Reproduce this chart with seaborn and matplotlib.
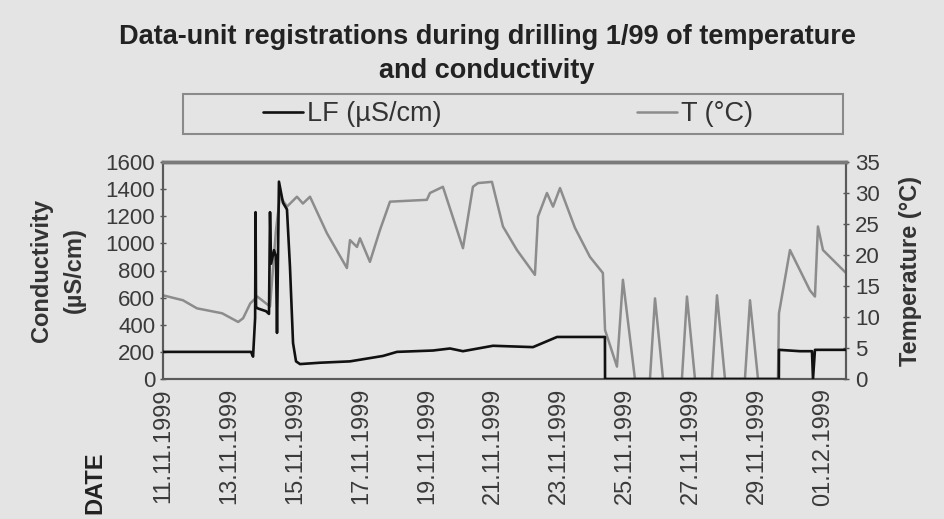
import pandas as pd
import matplotlib
matplotlib.use("Agg")
import matplotlib.pyplot as plt
import matplotlib.dates as mdates
from matplotlib.patches import Rectangle
import seaborn as sns

# conductivity (LF) readings
lf_time = [
    "1999-11-11 00:00", "1999-11-13 16:00", "1999-11-13 17:30", "1999-11-13 19:00",
    "1999-11-13 19:20", "1999-11-13 19:40", "1999-11-13 21:05", "1999-11-14 00:00",
    "1999-11-14 02:55", "1999-11-14 05:05", "1999-11-14 05:50", "1999-11-14 06:35",
    "1999-11-14 08:45", "1999-11-14 10:10", "1999-11-14 10:55", "1999-11-14 12:20",
    "1999-11-14 15:15", "1999-11-14 18:10", "1999-11-14 20:20", "1999-11-14 22:35",
    "1999-11-15 00:45", "1999-11-15 03:40", "1999-11-15 18:10", "1999-11-16 16:00",
    "1999-11-17 16:00", "1999-11-18 02:10", "1999-11-19 04:20", "1999-11-19 16:45",
    "1999-11-20 02:10", "1999-11-21 00:00", "1999-11-22 05:05", "1999-11-22 22:35",
    "1999-11-24 09:25", "1999-11-24 09:30", "1999-11-29 15:55", "1999-11-29 16:00",
    "1999-11-30 07:15", "1999-11-30 16:00", "1999-11-30 16:45", "1999-11-30 18:10",
    "1999-12-01 16:45",
]
lf_value = [
    200, 200, 165, 450,
    1230, 530, 520, 510,
    500, 480, 1230, 850,
    950, 900, 340, 1455,
    1300, 1250, 830, 265,
    130, 110, 120, 130,
    170, 200, 210, 225,
    205, 245, 235, 310,
    310, 0, 0, 215,
    205, 205, 0, 215,
    215,
]

# temperature readings
t_time = [
    "1999-11-11 00:00", "1999-11-11 14:30", "1999-11-12 00:40", "1999-11-12 19:00",
    "1999-11-13 06:40", "1999-11-13 10:15", "1999-11-13 15:30", "1999-11-13 20:35",
    "1999-11-14 05:50", "1999-11-14 10:10", "1999-11-14 13:05", "1999-11-14 18:10",
    "1999-11-15 01:25", "1999-11-15 05:45", "1999-11-15 10:55", "1999-11-15 23:15",
    "1999-11-16 13:45", "1999-11-16 16:00", "1999-11-16 21:05", "1999-11-16 23:15",
    "1999-11-17 06:30", "1999-11-17 13:45", "1999-11-17 21:05", "1999-11-18 23:55",
    "1999-11-19 02:10", "1999-11-19 11:35", "1999-11-20 02:10", "1999-11-20 09:25",
    "1999-11-20 13:05", "1999-11-20 23:15", "1999-11-21 07:15", "1999-11-21 17:25",
    "1999-11-22 06:30", "1999-11-22 08:45", "1999-11-22 15:15", "1999-11-22 19:40",
    "1999-11-23 00:45", "1999-11-23 11:35", "1999-11-23 22:30", "1999-11-24 07:55",
    "1999-11-24 09:30", "1999-11-24 18:10", "1999-11-24 22:30", "1999-11-25 07:15",
    "1999-11-25 18:10", "1999-11-25 21:50", "1999-11-26 03:40", "1999-11-26 17:25",
    "1999-11-26 21:05", "1999-11-27 02:55", "1999-11-27 15:15", "1999-11-27 18:55",
    "1999-11-28 00:45", "1999-11-28 15:15", "1999-11-28 18:55", "1999-11-29 00:45",
    "1999-11-29 15:15", "1999-11-29 16:00", "1999-11-30 00:00", "1999-11-30 14:30",
    "1999-11-30 18:10", "1999-11-30 20:20", "1999-12-01 00:00", "1999-12-01 16:45",
]
t_value = [
    13.5, 12.7, 11.4, 10.6,
    9.2, 9.8, 12.2, 13.3,
    11.7, 24.0, 29.5, 27.8,
    29.4, 28.3, 29.4, 23.5,
    17.9, 22.4, 21.3, 22.7,
    18.9, 24.0, 28.6, 28.9,
    30.0, 31.0, 21.1, 31.0,
    31.6, 31.8, 24.6, 20.8,
    16.8, 26.2, 30.0, 27.8,
    30.8, 24.4, 19.7, 17.1,
    7.9, 2.0, 16.0, 0.0,
    0.0, 13.0, 0.0, 0.0,
    13.3, 0.0, 0.0, 13.5,
    0.0, 0.0, 12.7, 0.0,
    0.0, 10.6, 20.8, 14.3,
    13.3, 24.6, 20.8, 17.1,
]

tick_dates = ["1999-11-11", "1999-11-13", "1999-11-15", "1999-11-17", "1999-11-19",
              "1999-11-21", "1999-11-23", "1999-11-25", "1999-11-27", "1999-11-29",
              "1999-12-01"]

lf = pd.DataFrame({"date": pd.to_datetime(lf_time), "LF": lf_value})
temp = pd.DataFrame({"date": pd.to_datetime(t_time), "T": t_value})

bg = "#e4e4e4"
sns.set_theme(style="white")
plt.rcParams["font.family"] = ["Liberation Sans", "DejaVu Sans"]
plt.rcParams["axes.facecolor"] = bg
plt.rcParams["figure.facecolor"] = bg

fig = plt.figure(figsize=(9.45, 5.19), dpi=100)
ax = fig.add_axes([163 / 945, 1 - 379 / 519, 683 / 945, 217 / 519])
ax2 = ax.twinx()

sns.lineplot(data=lf, x="date", y="LF", ax=ax, color="#111111", linewidth=1.9,
             label="LF (µS/cm)", legend=False, zorder=3)
sns.lineplot(data=temp, x="date", y="T", ax=ax2, color="#8c8c8c", linewidth=1.8,
             label="T (°C)", legend=False)
ax.set_zorder(ax2.get_zorder() + 1)
ax.patch.set_visible(False)
ax2.patch.set_visible(True)

ax.set_xlim(pd.Timestamp("1999-11-11 00:00"), pd.Timestamp("1999-12-01 16:45"))
ax.set_ylim(0, 1600)
ax.set_yticks(range(0, 1601, 200))
ax2.set_ylim(0, 35)
ax2.set_yticks(range(0, 36, 5))

ax.set_xticks(pd.to_datetime(tick_dates))
ax.xaxis.set_major_formatter(mdates.DateFormatter("%d.%m.%Y"))
ax.tick_params(axis="x", rotation=90)

tick_kw = dict(colors="#555555", labelcolor="#3a3a3a", length=5,
               direction="inout", width=1)
ax.tick_params(axis="both", **tick_kw)
ax2.tick_params(axis="y", **tick_kw)
ax.tick_params(axis="x", labelsize=17, pad=4)
ax.tick_params(axis="y", labelsize=16, pad=3)
ax2.tick_params(axis="y", labelsize=16, pad=4)

for a in (ax, ax2):
    for s in a.spines.values():
        s.set_color("#5a5a5a")
        s.set_linewidth(1.5)
    a.spines["top"].set_color("#7a7a7a")
    a.spines["top"].set_linewidth(2.5)

ax.set_xlabel("")
ax.set_ylabel("Conductivity\n(µS/cm)", fontsize=17, fontweight="bold", color="#333333",
              labelpad=14, linespacing=1.55)
ax2.set_ylabel("Temperature (°C)", fontsize=17, fontweight="bold", color="#333333",
               labelpad=14)

fig.text(95 / 945, 1 - 483 / 519, "DATE", rotation=90, ha="center", va="center",
         fontsize=17, fontweight="bold", color="#222222")

fig.text(487 / 945, 1 - 37 / 519, "Data-unit registrations during drilling 1/99 of temperature",
         ha="center", va="center", fontsize=19.5, fontweight="bold", color="#222222")
fig.text(487 / 945, 1 - 71 / 519, "and conductivity",
         ha="center", va="center", fontsize=19.5, fontweight="bold", color="#222222")

fig.patches.append(Rectangle((183 / 945, 1 - 134 / 519), 660 / 945, 40 / 519,
                             transform=fig.transFigure, facecolor="none",
                             edgecolor="#8a8a8a", linewidth=1.5))
handles = [ax.get_lines()[0], ax2.get_lines()[0]]
fig.legend(handles, ["LF (µS/cm)", "T (°C)"], loc="center",
           bbox_to_anchor=(508 / 945, 1 - 114 / 519), ncol=2, frameon=False,
           fontsize=19.5, handlelength=1.5, handletextpad=0.15, columnspacing=7.2,
           labelcolor="#333333")

plt.savefig("out.png", dpi=100, facecolor=bg)
